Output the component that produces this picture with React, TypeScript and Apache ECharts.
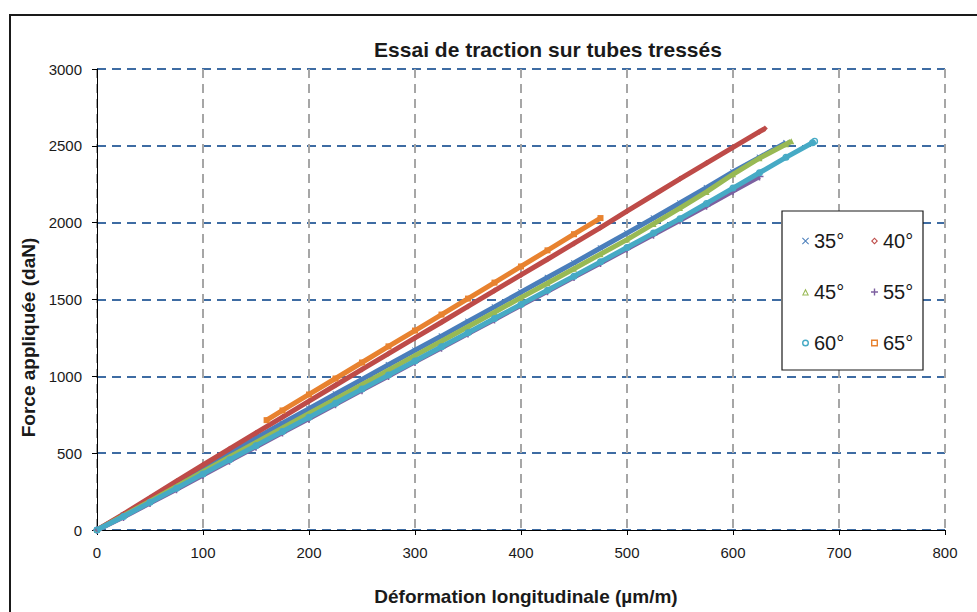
import React, { useEffect, useRef } from "react";
import * as echarts from "echarts";

const title = "Essai de traction sur tubes tressés";
const xAxisName = "Déformation longitudinale (µm/m)";
const yAxisName = "Force appliquée (daN)";
const seriesNames = ["35°", "40°", "45°", "55°", "60°", "65°"];

const x35 = [0, 25, 50, 75, 100, 125, 150, 175, 200, 225, 250, 275, 300, 325, 350, 375, 400, 425, 450, 475, 500, 525, 550, 575, 600, 625, 650];
const y35 = [0, 98, 196, 297, 400, 500, 598, 695, 790, 885, 980, 1075, 1170, 1262, 1358, 1452, 1548, 1643, 1738, 1835, 1932, 2030, 2128, 2228, 2330, 2425, 2520];

const x40 = [0, 25, 50, 75, 100, 125, 150, 175, 200, 225, 250, 275, 300, 325, 350, 375, 400, 425, 450, 475, 500, 525, 550, 575, 600, 625, 630];
const y40 = [0, 104, 210, 318, 423, 528, 632, 735, 838, 942, 1045, 1148, 1250, 1352, 1455, 1558, 1660, 1762, 1865, 1968, 2075, 2180, 2285, 2388, 2490, 2592, 2612];

const x45 = [0, 25, 50, 75, 100, 125, 150, 175, 200, 225, 250, 275, 300, 325, 350, 375, 400, 425, 450, 475, 500, 525, 550, 575, 600, 625, 650, 655];
const y45 = [0, 93, 188, 283, 380, 475, 570, 664, 758, 852, 946, 1040, 1135, 1228, 1323, 1417, 1512, 1606, 1700, 1795, 1890, 1992, 2095, 2200, 2315, 2420, 2510, 2530];

const x55 = [0, 25, 50, 75, 100, 125, 150, 175, 200, 225, 250, 275, 300, 325, 350, 375, 400, 425, 450, 475, 500, 525, 550, 575, 600, 625];
const y55 = [0, 85, 175, 265, 358, 450, 542, 634, 726, 818, 910, 1002, 1094, 1186, 1278, 1370, 1462, 1554, 1646, 1738, 1830, 1922, 2015, 2110, 2205, 2300];

const x60 = [0, 25, 50, 75, 100, 125, 150, 175, 200, 225, 250, 275, 300, 325, 350, 375, 400, 425, 450, 475, 500, 525, 550, 575, 600, 625, 650, 675, 677];
const y60 = [0, 88, 180, 272, 365, 457, 549, 641, 733, 825, 917, 1008, 1100, 1192, 1284, 1376, 1468, 1560, 1652, 1745, 1838, 1932, 2026, 2125, 2225, 2325, 2425, 2520, 2530];

const x65 = [160, 175, 200, 225, 250, 275, 300, 325, 350, 375, 400, 425, 450, 475];
const y65 = [715, 778, 882, 986, 1090, 1195, 1298, 1402, 1506, 1610, 1715, 1820, 1925, 2030];

const xTicks = [0, 100, 200, 300, 400, 500, 600, 700, 800];
const yTicks = [0, 500, 1000, 1500, 2000, 2500, 3000];

const X_SYMBOL = "path://M1,0L5,4L9,0L10,1L6,5L10,9L9,10L5,6L1,10L0,9L4,5L0,1Z";
const PLUS_SYMBOL = "path://M4,0H6V4H10V6H6V10H4V6H0V4H4Z";
const HOLLOW_DIAMOND = "path://M5,0L10,5L5,10L0,5ZM5,2.2L2.2,5L5,7.8L7.8,5Z";
const HOLLOW_TRIANGLE = "path://M5,0L10,10L0,10ZM5,3.6L2.3,8.6L7.7,8.6Z";
const HOLLOW_CIRCLE = "path://M5,0A5,5 0 1,1 5,10A5,5 0 1,1 5,0ZM5,2A3,3 0 1,0 5,8A3,3 0 1,0 5,2Z";
const HOLLOW_SQUARE = "path://M0,0H10V10H0ZM2,2V8H8V2Z";

const colors = ["#4a7ebb", "#be4b48", "#98b954", "#7d60a0", "#46aac5", "#e8822f"];
const symbols = [X_SYMBOL, "diamond", "triangle", PLUS_SYMBOL, HOLLOW_CIRCLE, "rect"];
const legendIcons = [X_SYMBOL, HOLLOW_DIAMOND, HOLLOW_TRIANGLE, PLUS_SYMBOL, HOLLOW_CIRCLE, HOLLOW_SQUARE];

const xs = [x35, x40, x45, x55, x60, x65];
const ys = [y35, y40, y45, y55, y60, y65];

const FONT = "Liberation Sans, Arial, sans-serif";

export default function App() {
  const ref = useRef<HTMLDivElement>(null);
  useEffect(() => {
    if (!ref.current) return;
    const chart = echarts.init(ref.current, null, { renderer: "svg" });
    const series = seriesNames.map((name, i) => ({
      name,
      type: "line",
      data: xs[i].map((x, j) => [x, ys[i][j]]),
      symbol: symbols[i],
      symbolSize: i === 3 ? 8 : i === 4 ? 7 : 6,
      showSymbol: true,
      lineStyle: { color: colors[i], width: 5 },
      itemStyle: { color: colors[i] },
      emphasis: { disabled: true },
      z: 2 + i,
    }));
    const legendItem = (i: number) => ({
      name: seriesNames[i],
      icon: legendIcons[i],
      itemStyle: { color: colors[i] },
    });
    const legendCommon = {
      orient: "vertical",
      top: 226,
      itemWidth: 7,
      itemHeight: 7,
      itemGap: 31,
      selectedMode: false,
      textStyle: { fontSize: 20, color: "#1a1a1a", fontFamily: FONT },
      z: 10,
    };
    chart.setOption({
      animation: false,
      backgroundColor: "#ffffff",
      title: {
        text: title,
        left: 543,
        top: 34,
        textAlign: "center",
        textStyle: { fontSize: 21, fontWeight: "bold", color: "#1a1a1a", fontFamily: FONT },
      },
      grid: { left: 97, right: 32, top: 69, bottom: 82, containLabel: false },
      xAxis: {
        type: "value",
        min: xTicks[0],
        max: xTicks[xTicks.length - 1],
        interval: 100,
        name: xAxisName,
        nameLocation: "middle",
        nameGap: 57,
        nameTextStyle: { fontSize: 19, fontWeight: "bold", color: "#1a1a1a", fontFamily: FONT, padding: [0, 0, 0, 10] },
        axisLine: { show: true, onZero: false, lineStyle: { color: "#000000", width: 1 } },
        axisTick: { show: true, length: 5, lineStyle: { color: "#000000" } },
        axisLabel: { fontSize: 15, color: "#1a1a1a", margin: 15, fontFamily: FONT, formatter: (v: number) => String(v) },
        splitLine: { show: true, lineStyle: { color: "#a6a6a6", width: 2, type: [9, 6] } },
      },
      yAxis: {
        type: "value",
        min: yTicks[0],
        max: yTicks[yTicks.length - 1],
        interval: 500,
        name: yAxisName,
        nameLocation: "middle",
        nameGap: 54,
        nameTextStyle: { fontSize: 19, fontWeight: "bold", color: "#1a1a1a", fontFamily: FONT, padding: [0, 76, 0, 0] },
        axisLine: { show: true, onZero: false, lineStyle: { color: "#000000", width: 1 } },
        axisTick: { show: true, length: 5, lineStyle: { color: "#000000" } },
        axisLabel: { fontSize: 15, color: "#1a1a1a", margin: 15, fontFamily: FONT, formatter: (v: number) => String(v) },
        splitLine: { show: true, lineStyle: { color: "#3e6ca3", width: 2, type: [9, 6] } },
      },
      legend: [
        { ...legendCommon, left: 797, data: [0, 2, 4].map(legendItem) },
        { ...legendCommon, left: 866, data: [1, 3, 5].map(legendItem) },
      ],
      graphic: [
        {
          type: "rect",
          shape: { x: 10, y: 15, width: 1000, height: 700 },
          style: { fill: "transparent", stroke: "#1a1a1a", lineWidth: 2 },
          z: 0,
          silent: true,
        },
        {
          type: "rect",
          shape: { x: 782, y: 211, width: 141, height: 159 },
          style: { fill: "#ffffff", stroke: "#1a1a1a", lineWidth: 1.2 },
          z: 9,
          silent: true,
        },
      ],
      series,
    });
    return () => chart.dispose();
  }, []);
  return (
    <div
      ref={ref}
      style={{ position: "fixed", left: 0, top: 0, width: 977, height: 612 }}
    />
  );
}
